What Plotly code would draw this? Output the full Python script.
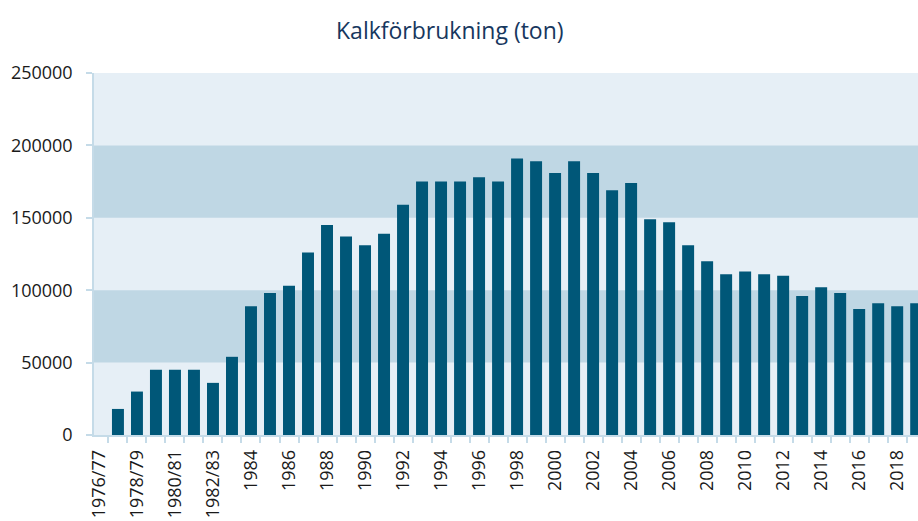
import plotly.graph_objects as go

categories = ["1976/77", "1977/78", "1978/79", "1979/80", "1980/81", "1981/82", "1982/83", "1983",
              "1984", "1985", "1986", "1987", "1988", "1989", "1990", "1991", "1992", "1993",
              "1994", "1995", "1996", "1997", "1998", "1999", "2000", "2001", "2002", "2003",
              "2004", "2005", "2006", "2007", "2008", "2009", "2010", "2011", "2012", "2013",
              "2014", "2015", "2016", "2017", "2018", "2019"]
values = [None, 18000, 30000, 45000, 45000, 45000, 36000, 54000,
          89000, 98000, 103000, 126000, 145000, 137000, 131000, 139000, 159000, 175000,
          175000, 175000, 178000, 175000, 191000, 189000, 181000, 189000, 181000, 169000,
          174000, 149000, 147000, 131000, 120000, 111000, 113000, 111000, 110000, 96000,
          102000, 98000, 87000, 91000, 89000, 91000]
y_ticks = [0, 50000, 100000, 150000, 200000, 250000]
band_ranges = [(50000, 100000), (150000, 200000)]
title_text = "Kalkförbrukning (ton)"

tick_text = [c if i % 2 == 0 else "" for i, c in enumerate(categories)]

LIGHT = "#e6eff6"
DARK = "#bfd7e4"
AXIS = "#c5dbe8"
BAR = "#005778"
FONT = "Open Sans"

fig = go.Figure()
fig.add_trace(go.Bar(x=categories, y=values, marker=dict(color=BAR, line=dict(width=0)),
                     hoverinfo="x+y"))

for lo, hi in band_ranges:
    fig.add_shape(type="rect", xref="paper", yref="y", x0=0, x1=1, y0=lo, y1=hi,
                  fillcolor=DARK, line=dict(width=0), layer="below")

fig.update_layout(
    width=918, height=521,
    margin=dict(l=94, r=0, t=73, b=86, autoexpand=False),
    paper_bgcolor="white",
    plot_bgcolor=LIGHT,
    bargap=0.37,
    showlegend=False,
    font=dict(family=FONT, size=18, color="#1a1a1a"),
    title=dict(text=title_text, x=0.49, xanchor="center", xref="container",
               y=1 - 31 / 521, yref="container", yanchor="middle",
               font=dict(family=FONT, size=23, color="#17375e")),
)
fig.update_xaxes(
    type="category",
    range=[-0.26, 43.095],
    automargin=False,
    tickmode="array", tickvals=categories, ticktext=tick_text,
    tickson="boundaries",
    ticks="outside", ticklen=6, tickcolor=AXIS, tickwidth=1.5,
    tickangle=-90,
    ticklabelstandoff=6,
    showline=True, linecolor=AXIS, linewidth=1.5,
    showgrid=False, zeroline=False,
    tickfont=dict(family=FONT, size=18, color="#1a1a1a"),
)
fig.update_yaxes(
    range=[0, 250000],
    automargin=False,
    tickmode="array", tickvals=y_ticks, ticktext=[str(v) for v in y_ticks],
    ticks="outside", ticklen=6, tickcolor=AXIS, tickwidth=1.5,
    showline=True, linecolor=AXIS, linewidth=1.5,
    showgrid=False, zeroline=False,
    ticklabelstandoff=10,
    tickfont=dict(family=FONT, size=18, color="#1a1a1a"),
)

fig.write_html("out.html", config={"displayModeBar": False},
               post_script="document.body.style.margin='0';")
